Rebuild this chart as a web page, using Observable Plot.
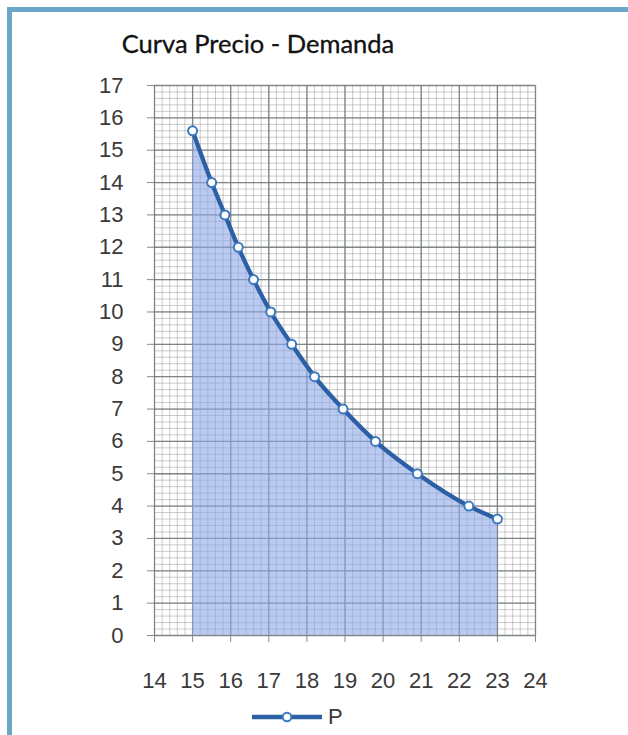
<!DOCTYPE html>
<html>
<head>
<meta charset="utf-8">
<script src="https://cdn.jsdelivr.net/npm/d3@7"></script>
<script src="https://cdn.jsdelivr.net/npm/@observablehq/plot@0.6"></script>
<style>
  html, body { margin: 0; padding: 0; background: #fff; }
  #wrap { position: relative; width: 628px; height: 735px; overflow: hidden; background: #fff; }
  #frameTop { position: absolute; left: 7px; top: 7px; right: 0; height: 5px; background: #6aa6c6; }
  #frameLeft { position: absolute; left: 7px; top: 7px; width: 5px; bottom: 0; background: #6aa6c6; }
  #title { position: absolute; left: 0; width: 516px; top: 28px; text-align: center;
           font-family: Lato, "Open Sans", sans-serif; font-size: 25.5px; color: #111;
           -webkit-text-stroke: 0.3px #111; }
  #chart { position: absolute; left: 0; top: 60px; }
  #chart svg text { -webkit-text-stroke: 0.2px #3a3a3a; }
  #legend { position: absolute; left: 250px; top: 704px; display: flex; align-items: center;
            font-family: "Liberation Sans", Arial, sans-serif; font-size: 22px; color: #3a3a3a; }
</style>
</head>
<body>
<div id="wrap">
  <div id="frameTop"></div>
  <div id="frameLeft"></div>
  <div id="title">Curva Precio - Demanda</div>
  <div id="chart"></div>
  <div id="legend">
    <svg width="74" height="20" style="margin-right:4px">
      <line x1="2" y1="10" x2="72" y2="10" stroke="#2b5fa6" stroke-width="4.5"></line>
      <circle cx="37" cy="10" r="4.3" fill="#fff" stroke="#3a78c0" stroke-width="2"></circle>
    </svg>
    <span>P</span>
  </div>
</div>
<script>
// Data
const quantity = [15.0, 15.5, 15.85, 16.2, 16.6, 17.05, 17.6, 18.2, 18.95, 19.8, 20.9, 22.25, 23.0];
const price    = [15.6, 14, 13, 12, 11, 10, 9, 8, 7, 6, 5, 4, 3.6];
const xTicks = [14, 15, 16, 17, 18, 19, 20, 21, 22, 23, 24];
const yTicks = [0, 1, 2, 3, 4, 5, 6, 7, 8, 9, 10, 11, 12, 13, 14, 15, 16, 17];
const seriesName = "P";

const data = quantity.map((q, i) => ({q, p: price[i]}));
const minorX = d3.range(140, 241, 2).map(v => v / 10);
const minorY = d3.range(0, 171, 2).map(v => v / 10);

const chart = Plot.plot({
  width: 628,
  height: 640,
  marginLeft: 154,
  marginRight: 93,
  marginTop: 25,
  marginBottom: 65,
  style: {fontFamily: "'Liberation Sans', Arial, sans-serif", fontSize: "22px", color: "#3a3a3a", background: "transparent"},
  x: {domain: [14, 24], ticks: xTicks, tickSize: 7, tickPadding: 30, label: null},
  y: {domain: [0, 17], ticks: yTicks, tickSize: 7, tickPadding: 24, label: null},
  marks: [
    Plot.ruleX(minorX, {stroke: "#9a9a9a", strokeOpacity: 0.5, strokeWidth: 1}),
    Plot.ruleY(minorY, {stroke: "#9a9a9a", strokeOpacity: 0.5, strokeWidth: 1}),
    Plot.ruleX(xTicks, {stroke: "#707878", strokeOpacity: 0.85, strokeWidth: 1.3}),
    Plot.ruleY(yTicks, {stroke: "#707878", strokeOpacity: 0.85, strokeWidth: 1.3}),
    Plot.areaY(data, {x: "q", y: "p", curve: "monotone-x", fill: "#8ea6e6", fillOpacity: 0.6}),
    Plot.axisX({ticks: xTicks, tickSize: 7, tickPadding: 30, stroke: "#888", label: null}),
    Plot.axisY({ticks: yTicks, tickSize: 7, tickPadding: 24, stroke: "#888", label: null}),
    Plot.line(data, {x: "q", y: "p", curve: "monotone-x", stroke: "#2b5fa6", strokeWidth: 4.3}),
    Plot.dot(data, {x: "q", y: "p", r: 4.5, fill: "#fff", stroke: "#3a78c0", strokeWidth: 2, title: () => seriesName})
  ]
});
document.getElementById("chart").appendChild(chart);
</script>
</body>
</html>
